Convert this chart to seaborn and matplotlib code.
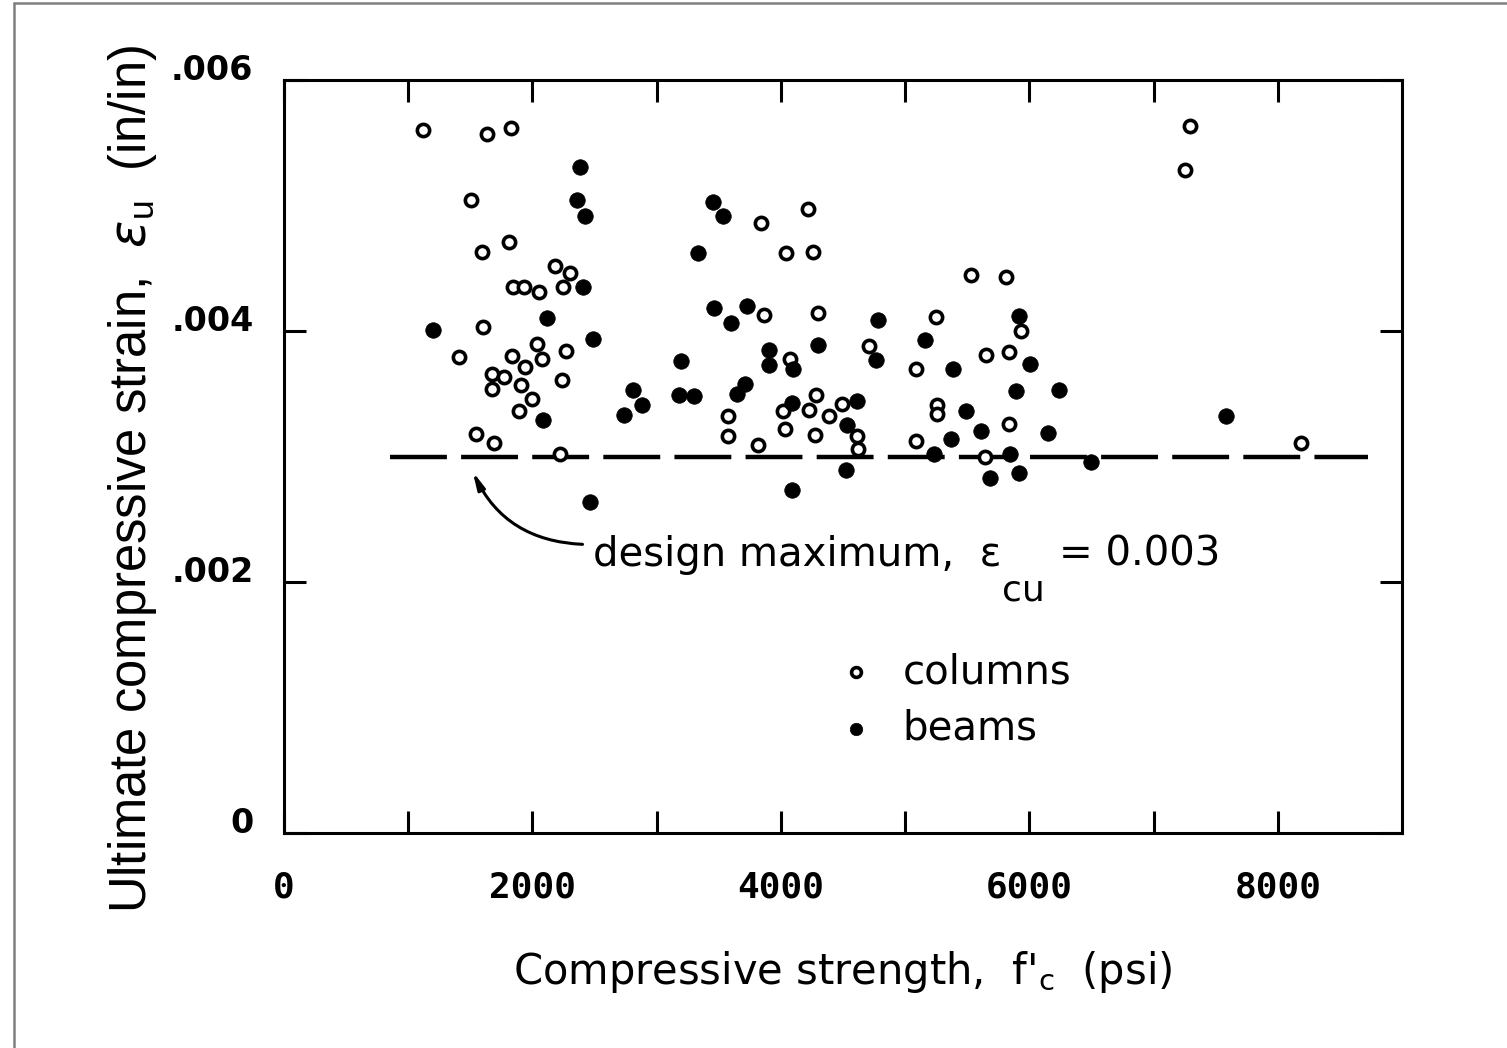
import matplotlib
matplotlib.use("Agg")
import matplotlib.pyplot as plt
import seaborn as sns
import pandas as pd
from matplotlib.lines import Line2D
from matplotlib.ticker import FixedLocator, FixedFormatter

# ---------------- data ----------------
col_fc = [1115, 1637, 1830, 1509, 1811, 1594, 2178, 2299, 1843, 1932, 2050, 2245,
          1605, 2039, 1407, 1835, 2080, 2272, 1943, 1674, 1771, 1674, 1911, 2237,
          1999, 1891, 1549, 1690, 2221,
          3840, 4220, 4041, 4260, 3867, 4295, 4711, 4073, 5086, 3572, 3577, 3818,
          4019, 4035, 4282, 4223, 4277, 4384, 4488, 4612, 4617, 5086,
          5533, 5810, 5247, 5930, 5653, 5836, 5260, 5260, 5836, 5640,
          7296, 7251, 8186]
col_eu = [5.60, 5.57, 5.62, 5.04, 4.71, 4.63, 4.52, 4.46, 4.35, 4.35, 4.31, 4.35,
          4.03, 3.90, 3.79, 3.80, 3.78, 3.84, 3.71, 3.66, 3.63, 3.54, 3.57, 3.61,
          3.46, 3.36, 3.18, 3.11, 3.02,
          4.86, 4.97, 4.62, 4.63, 4.13, 4.14, 3.88, 3.78, 3.70, 3.32, 3.16, 3.09,
          3.36, 3.22, 3.49, 3.37, 3.17, 3.32, 3.42, 3.16, 3.06, 3.12,
          4.45, 4.43, 4.11, 4.00, 3.81, 3.83, 3.41, 3.34, 3.26, 3.00,
          5.63, 5.28, 3.11]

beam_fc = [2385, 2361, 2425, 2406, 2117, 1200, 2486, 2084, 2460,
           3451, 3537, 3331, 3459, 3727, 3599, 4785, 4295, 4764, 3197, 3901, 3901,
           4094, 2808, 2880, 2741, 3183, 3304, 3711, 3647, 4089, 4611, 4536, 4523,
           4086,
           5916, 5158, 6005, 5386, 5890, 6238, 5493, 5613, 6149, 5372, 5233, 5844,
           5681, 5916, 6493, 7586]
beam_eu = [5.31, 5.04, 4.92, 4.35, 4.10, 4.01, 3.94, 3.29, 2.64,
           5.03, 4.92, 4.62, 4.18, 4.20, 4.06, 4.09, 3.89, 3.77, 3.76, 3.85, 3.73,
           3.70, 3.53, 3.41, 3.33, 3.49, 3.48, 3.58, 3.50, 3.43, 3.44, 3.25, 2.89,
           2.73,
           4.12, 3.93, 3.74, 3.70, 3.52, 3.53, 3.36, 3.20, 3.19, 3.14, 3.02, 3.02,
           2.83, 2.87, 2.96, 3.32]

design_fc = [850, 8730]
design_eu = [0.003, 0.003]

x_major = [0, 2000, 4000, 6000, 8000]
x_minor = [1000, 3000, 5000, 7000]
x_labels = ["0", "2000", "4000", "6000", "8000"]
y_major = [0.0, 0.002, 0.004, 0.006]
y_labels = ["0", ".002", ".004", ".006"]

columns = pd.DataFrame({"fc": col_fc, "eu": [v * 1e-3 for v in col_eu]})
beams = pd.DataFrame({"fc": beam_fc, "eu": [v * 1e-3 for v in beam_eu]})

# ---------------- style ----------------
sns.set_style("ticks")
plt.rcParams["font.family"] = ["DejaVu Sans"]
plt.rcParams["mathtext.fontset"] = "dejavusans"
for k in ["text.color", "axes.labelcolor", "xtick.color", "ytick.color",
          "axes.edgecolor"]:
    plt.rcParams[k] = "black"

fig = plt.figure(figsize=(15.07, 10.48), dpi=100)
ax = fig.add_axes([284 / 1507, 215 / 1048, 1118 / 1507, 753 / 1048])

sns.scatterplot(data=columns, x="fc", y="eu", ax=ax, marker="o", s=78,
                facecolor="white", edgecolor="black", linewidth=2.6,
                label="columns", zorder=3)
sns.scatterplot(data=beams, x="fc", y="eu", ax=ax, marker="o", s=125,
                color="black", edgecolor="black", linewidth=0.5,
                label="beams", zorder=3)

ax.plot(design_fc, design_eu, color="black", lw=3.2,
        linestyle=(0, (12.8, 3.2)), solid_capstyle="butt", zorder=2)

ax.set_xlim(0, 9000)
ax.set_ylim(0, 0.006)

for sp in ax.spines.values():
    sp.set_linewidth(2.2)
    sp.set_color("black")

ax.xaxis.set_major_locator(FixedLocator(x_major))
ax.xaxis.set_major_formatter(FixedFormatter(x_labels))
ax.xaxis.set_minor_locator(FixedLocator(x_minor))
ax.yaxis.set_major_locator(FixedLocator(y_major))
ax.yaxis.set_major_formatter(FixedFormatter(y_labels))

ax.tick_params(axis="both", which="both", direction="in", length=16, width=2.2,
               top=True, right=True, color="black", labelcolor="black")
ax.tick_params(axis="x", which="major", pad=27, labelsize=26)
ax.tick_params(axis="y", which="major", pad=22, labelsize=24)
for lab in ax.get_xticklabels():
    lab.set_fontweight("bold")
    lab.set_family("DejaVu Sans Mono")
for lab in ax.get_yticklabels():
    lab.set_fontweight("bold")
    lab.set_verticalalignment("baseline")

ax.set_xlabel(r"Compressive strength,  f$'_{\mathregular{c}}$  (psi)",
              fontsize=30, labelpad=32)
ax.set_ylabel(r"Ultimate compressive strain,  $\varepsilon_{\mathregular{u}}$  (in/in)",
              fontsize=36.5, family="Liberation Sans")
ax.yaxis.set_label_coords(-0.112, 0.47)

# annotation text, built in pieces so the subscript sits low like the original
t1 = ax.text(2484, 0.00213, "design maximum,  \u03b5", fontsize=29,
             ha="left", va="baseline")
t2 = ax.annotate("cu", xy=(1, 0), xycoords=t1, xytext=(1, 1),
                 textcoords="offset points", fontsize=26, ha="left", va="top")
ax.annotate("= 0.003", xy=(1, 0), xycoords=(t2, t1), xytext=(10, 0),
            textcoords="offset points", fontsize=29, ha="left", va="bottom")

ax.annotate("", xy=(1519, 0.00288), xytext=(2403, 0.00230),
            arrowprops=dict(arrowstyle="-|>,head_length=1.0,head_width=0.22",
                            color="black", lw=2.2,
                            connectionstyle="arc3,rad=-0.3",
                            shrinkA=0, shrinkB=0))

leg = ax.legend(loc="center left", bbox_to_anchor=(0.494, 0.176), frameon=False,
                fontsize=29, handlelength=1.0, handletextpad=0.65,
                labelspacing=0.42, borderpad=0, borderaxespad=0, markerscale=0.8)

# scan frame lines (left and top edges)
fig.add_artist(Line2D([14 / 1507, 14 / 1507], [0, 1 - 3 / 1048], transform=fig.transFigure,
                      color="#808080", lw=1.8))
fig.add_artist(Line2D([14 / 1507, 1], [1 - 3 / 1048, 1 - 3 / 1048], transform=fig.transFigure,
                      color="#808080", lw=1.8))

fig.savefig("out.png", dpi=100)
